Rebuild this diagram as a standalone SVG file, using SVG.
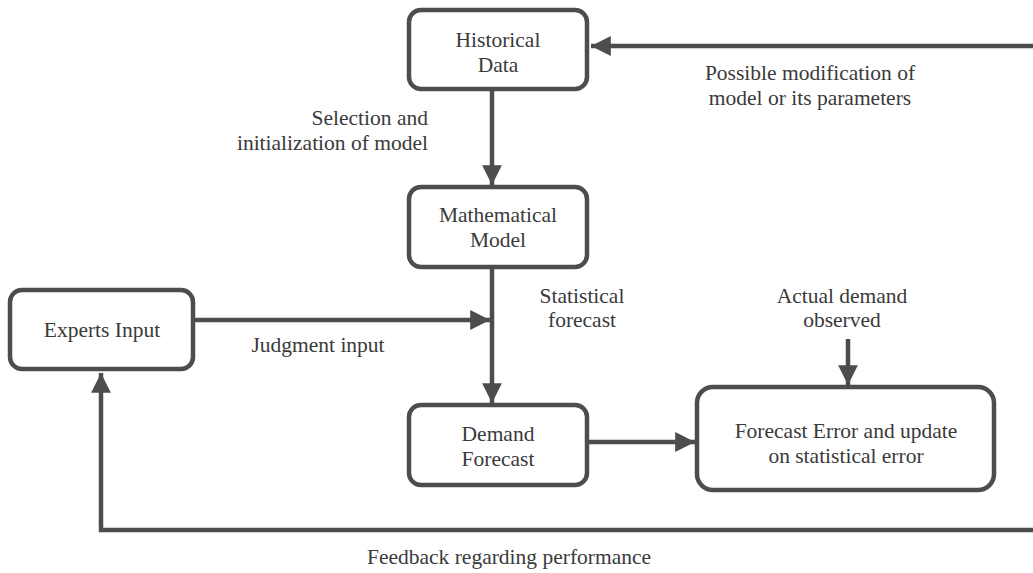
<svg xmlns="http://www.w3.org/2000/svg" width="1033" height="573" viewBox="0 0 1033 573" font-family="Liberation Serif, Times New Roman, serif">
  <defs>
    <marker id="arrow" viewBox="0 0 10 10" refX="10" refY="5" markerWidth="4.4" markerHeight="4.4" markerUnits="strokeWidth" orient="auto">
      <path d="M0,0 L10,5 L0,10 Z" fill="#4d4d4d"/>
    </marker>
    <style>
      .box { fill: #ffffff; stroke: #4d4d4d; stroke-width: 4.5; }
      .line { fill: none; stroke: #4d4d4d; stroke-width: 4.5; }
      .lbl { font-size: 21.5px; fill: #3a3a3a; text-anchor: middle; }
      .end { text-anchor: end; }
    </style>
  </defs>
  <rect width="1033" height="573" fill="#ffffff"/>

  <g id="connectors">
    <path class="line" d="M1033,46 L591,46" marker-end="url(#arrow)"/>
    <path class="line" d="M492,89 L492,185" marker-end="url(#arrow)"/>
    <path class="line" d="M492,267 L492,403" marker-end="url(#arrow)"/>
    <path class="line" d="M193,320 L490,320" marker-end="url(#arrow)"/>
    <path class="line" d="M587,442 L695,442" marker-end="url(#arrow)"/>
    <path class="line" d="M848,339 L848,385" marker-end="url(#arrow)"/>
    <path class="line" d="M1033,530 L101,530 L101,373" marker-end="url(#arrow)"/>
  </g>

  <g id="historical-data">
    <rect class="box" x="409" y="10" width="178" height="79" rx="12"/>
    <text class="lbl" x="498" y="47">Historical</text>
    <text class="lbl" x="498" y="72">Data</text>
  </g>

  <g id="mathematical-model">
    <rect class="box" x="409" y="187" width="178" height="80" rx="12"/>
    <text class="lbl" x="498" y="222">Mathematical</text>
    <text class="lbl" x="498" y="247">Model</text>
  </g>

  <g id="experts-input">
    <rect class="box" x="10" y="290" width="183" height="79" rx="12"/>
    <text class="lbl" x="102" y="337">Experts Input</text>
  </g>

  <g id="demand-forecast">
    <rect class="box" x="409" y="405" width="178" height="80" rx="12"/>
    <text class="lbl" x="498" y="441">Demand</text>
    <text class="lbl" x="498" y="466">Forecast</text>
  </g>

  <g id="forecast-error">
    <rect class="box" x="697" y="387" width="297" height="103" rx="16"/>
    <text class="lbl" x="846" y="438">Forecast Error and update</text>
    <text class="lbl" x="846" y="463">on statistical error</text>
  </g>

  <g id="labels">
    <text class="lbl" x="810" y="80">Possible modification of</text>
    <text class="lbl" x="810" y="105">model or its parameters</text>
    <text class="lbl end" x="428" y="125">Selection and</text>
    <text class="lbl end" x="428" y="150">initialization of model</text>
    <text class="lbl" x="582" y="303">Statistical</text>
    <text class="lbl" x="582" y="327">forecast</text>
    <text class="lbl" x="842" y="303">Actual demand</text>
    <text class="lbl" x="842" y="327">observed</text>
    <text class="lbl" x="318" y="352">Judgment input</text>
    <text class="lbl" x="509" y="564">Feedback regarding performance</text>
  </g>
</svg>
